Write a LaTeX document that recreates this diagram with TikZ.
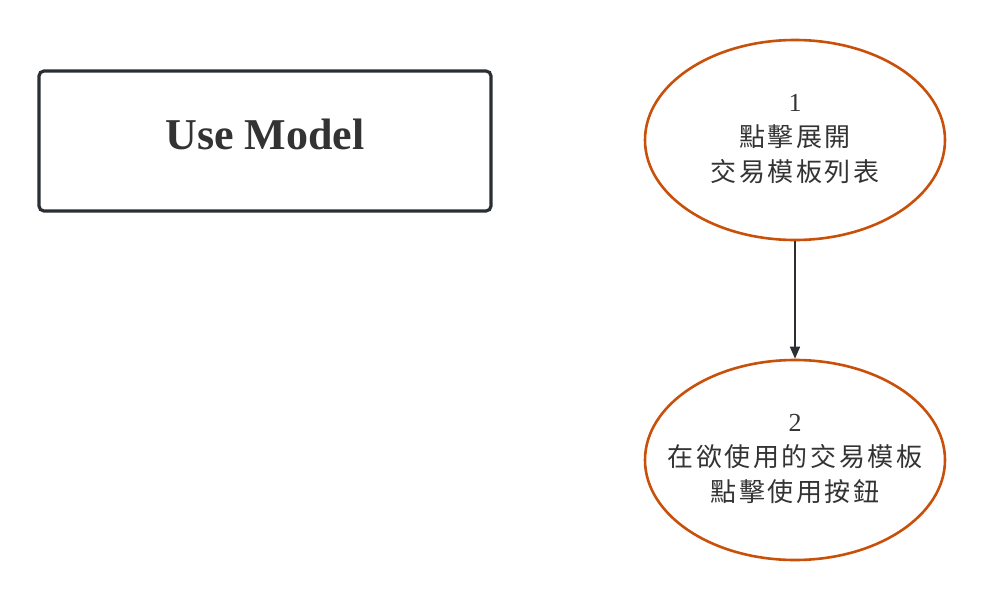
\documentclass[tikz,border=0pt]{standalone}
\usepackage{fontspec}
\setmainfont{Liberation Serif}
\newfontfamily\cjk[LetterSpace=10]{Noto Sans CJK TC}
\usetikzlibrary{shapes.geometric,arrows.meta}
\definecolor{dark}{HTML}{2B2F33}
\definecolor{orng}{HTML}{C9500A}
\definecolor{txt}{HTML}{333333}
\tikzset{
  titlebox/.style={draw=dark,line width=3.2pt,rounded corners=5pt,minimum width=452pt,minimum height=140pt,inner sep=0pt},
  titletext/.style={text=txt,inner sep=0pt,font=\bfseries\fontsize{44}{50}\selectfont},
  stepell/.style={ellipse,draw=orng,line width=2.6pt,minimum width=300pt,minimum height=200pt,inner sep=0pt},
  steptext/.style={text=txt,align=center,inner sep=0pt,font=\fontsize{26}{35}\selectfont},
  conn/.style={draw=dark,line width=1.6pt,-{Triangle[length=12pt,width=10pt]}}
}
\begin{document}
\begin{tikzpicture}[x=1pt,y=-1pt]
\useasboundingbox (0,0) rectangle (985,600);
\node[titlebox] (title) at (265,141) {};
\node[titletext,anchor=base] (titlet) at (265,149) {Use Model};
\node[stepell] (s1) at (795,140) {};
\node[steptext] (t1) at (795,139) {1\\{\cjk 點擊展開}\\{\cjk 交易模板列表}};
\node[stepell] (s2) at (795,460) {};
\node[steptext] (t2) at (795,459) {2\\{\cjk 在欲使用的交易模板}\\{\cjk 點擊使用按鈕}};
\draw[conn] (s1.south) -- (s2.north);
\end{tikzpicture}
\end{document}
